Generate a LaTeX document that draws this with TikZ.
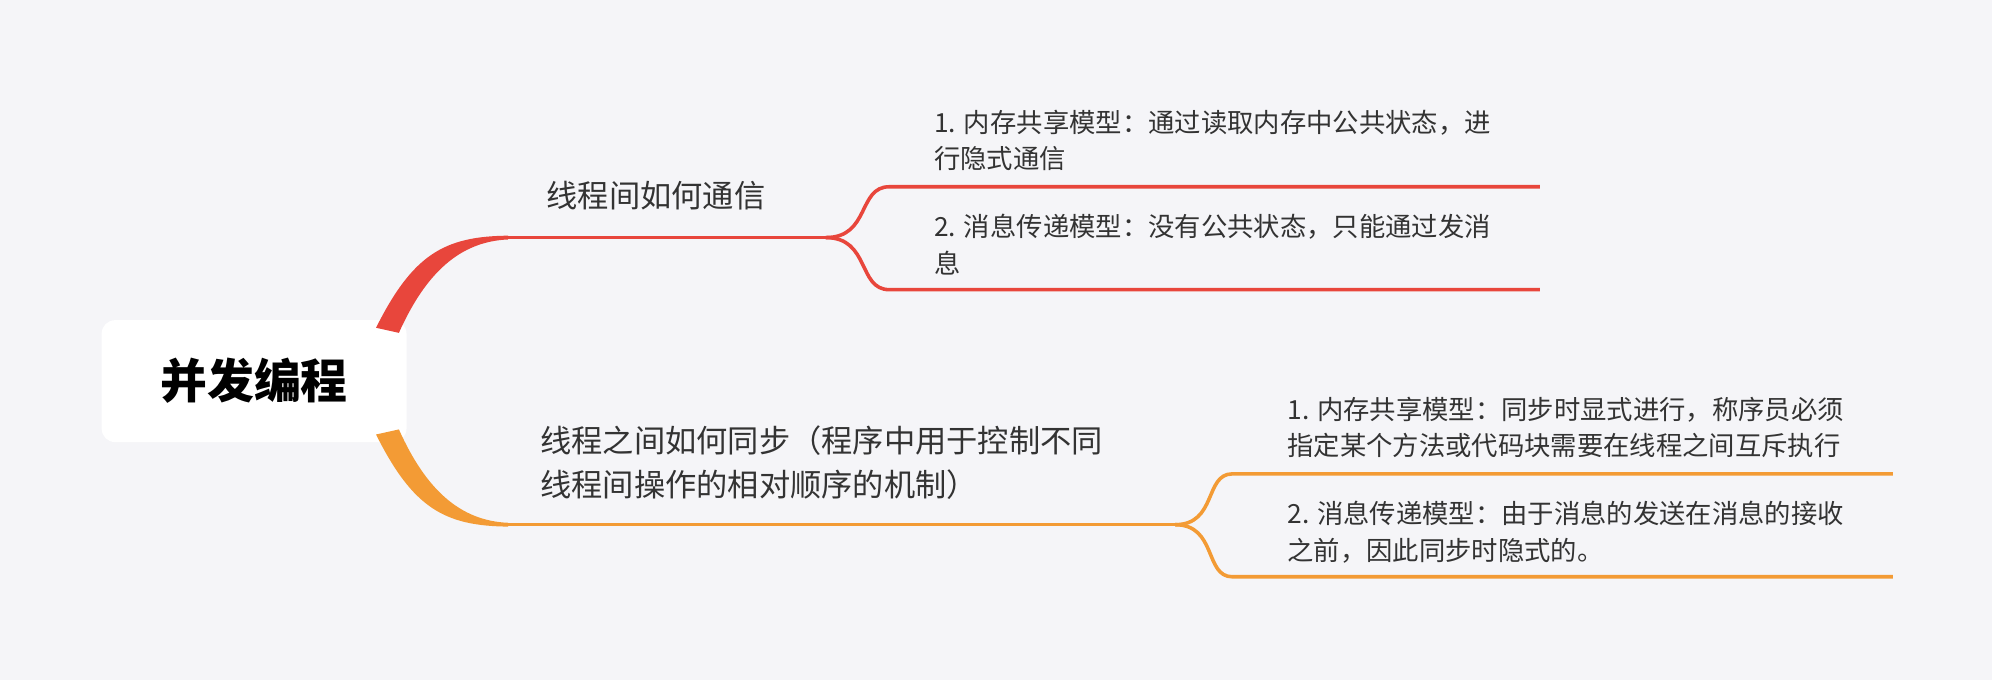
\documentclass[tikz,border=0pt]{standalone}
\usepackage{fontspec}
\setmainfont{Noto Sans CJK SC}
\usetikzlibrary{calc}
\definecolor{bgc}{HTML}{F5F5F8}
\definecolor{redb}{HTML}{E8463C}
\definecolor{orab}{HTML}{F39B35}
\definecolor{txt}{HTML}{333333}
\tikzset{
  leaf/.style={anchor=north west, align=left, inner sep=0pt, text=txt, font=\fontsize{11.8}{16.5}\selectfont},
  topic/.style={anchor=north west, align=left, inner sep=0pt, text=txt, font=\fontsize{14}{19.5}\selectfont},
  branch/.style={line width=1.6pt}
}
\begin{document}
\begin{tikzpicture}[x=0.02cm, y=-0.02cm]
    \fill[bgc] (0,0) rectangle (1568,535);

    % root
    \node[fill=white, rounded corners=6pt, minimum width=4.8cm, minimum height=1.92cm,
          font=\fontsize{21}{24}\selectfont\bfseries] (root) at (200,300) {并发编程};

    % red branch
    \fill[redb] (296,258) .. controls (325,200) and (350,186) .. (400,185.5)
        -- (400,188.5) .. controls (362,190) and (335,215) .. (314,262) -- cycle;
    \coordinate (r0) at (400,187);
    \coordinate (r1) at (650,187);
    \coordinate (ra) at (700,147);
    \coordinate (rb) at (700,228);
    \coordinate (ra2) at (1212,147);
    \coordinate (rb2) at (1212,228);
    \draw[redb, branch] (r0) -- (r1);
    \draw[redb, branch] (r1) .. controls (685,187) and (675,147) .. (ra) -- (ra2);
    \draw[redb, branch] (r1) .. controls (685,187) and (675,228) .. (rb) -- (rb2);
    \node[topic] (comm) at (430,142) {线程间如何通信};
    \node[leaf] (comm1) at (735,86) {1. 内存共享模型：通过读取内存中公共状态，进\\行隐式通信};
    \node[leaf] (comm2) at (735,168) {2. 消息传递模型：没有公共状态，只能通过发消\\息};

    % orange branch
    \fill[orab] (296,342) .. controls (325,400) and (350,414) .. (400,414.5)
        -- (400,411.5) .. controls (362,410) and (335,385) .. (314,338) -- cycle;
    \coordinate (o0) at (400,413);
    \coordinate (o1) at (925,413);
    \coordinate (oa) at (970,373);
    \coordinate (ob) at (970,454);
    \coordinate (oa2) at (1490,373);
    \coordinate (ob2) at (1490,454);
    \draw[orab, branch] (o0) -- (o1);
    \draw[orab, branch] (o1) .. controls (958,413) and (948,373) .. (oa) -- (oa2);
    \draw[orab, branch] (o1) .. controls (958,413) and (948,454) .. (ob) -- (ob2);
    \node[topic] (sync) at (425,335) {线程之间如何同步（程序中用于控制不同\\线程间操作的相对顺序的机制）};
    \node[leaf] (sync1) at (1013,312) {1. 内存共享模型：同步时显式进行，称序员必须\\指定某个方法或代码块需要在线程之间互斥执行};
    \node[leaf] (sync2) at (1013,394) {2. 消息传递模型：由于消息的发送在消息的接收\\之前，因此同步时隐式的。};
\end{tikzpicture}
\end{document}
